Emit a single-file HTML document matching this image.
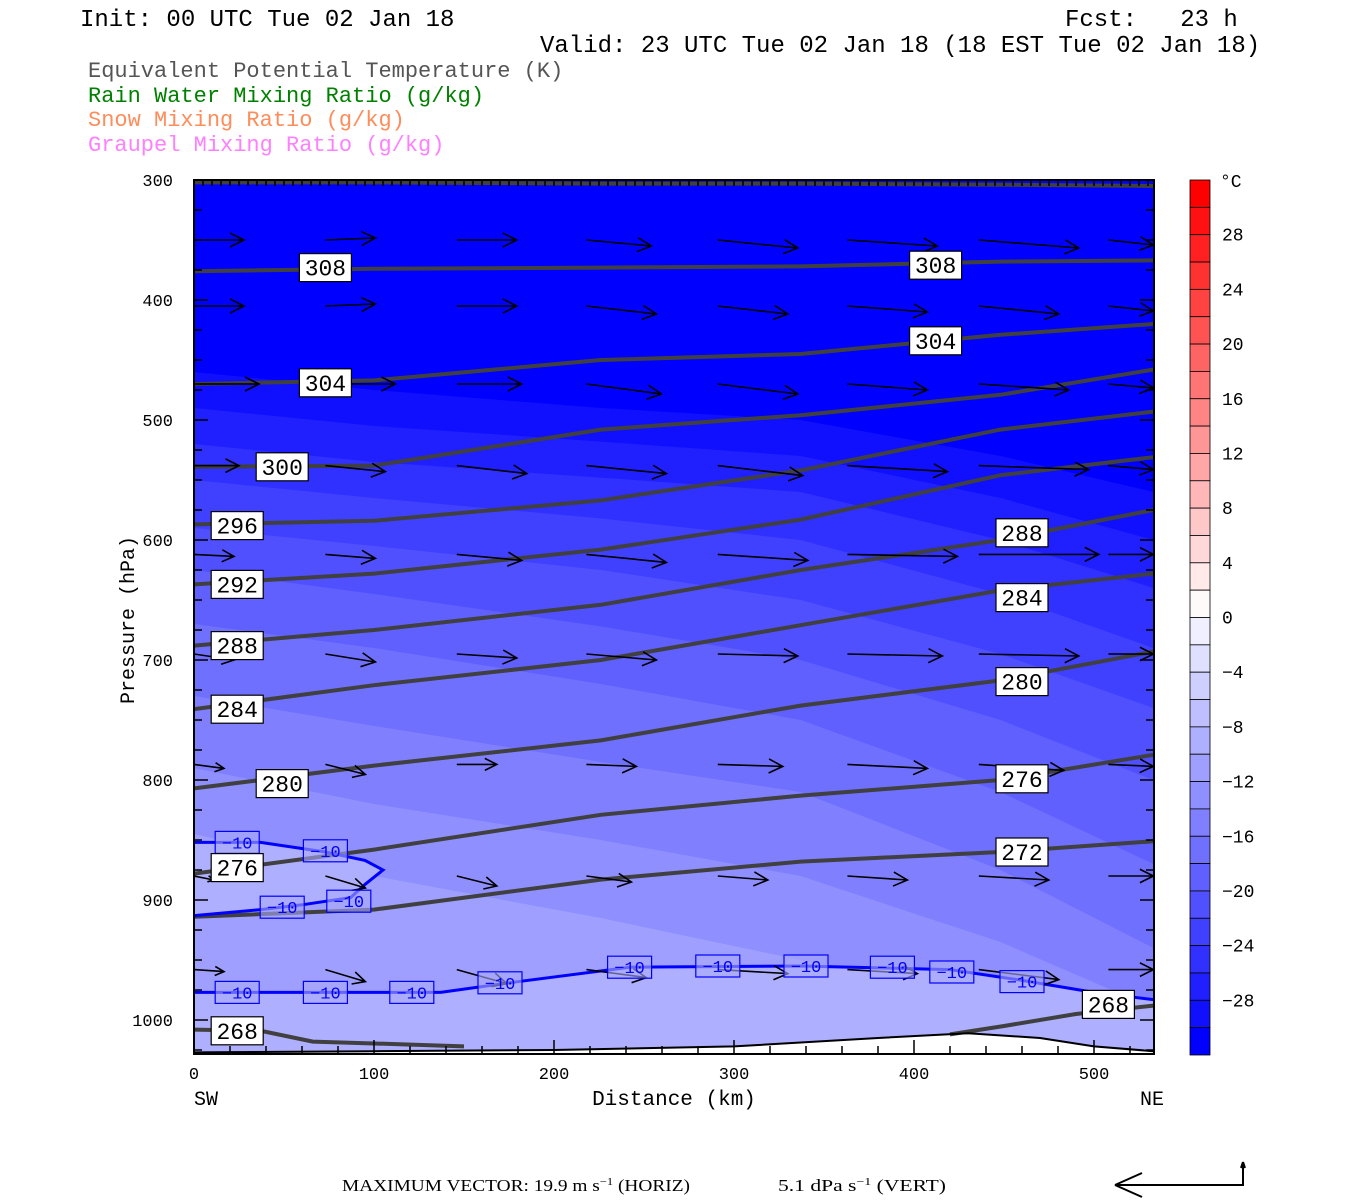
<!DOCTYPE html>
<html><head><meta charset="utf-8"><style>
body{margin:0;background:#fff;}
svg{display:block;font-family:"Liberation Mono",monospace;}
</style></head><body>
<svg id="chart" width="1350" height="1200" viewBox="0 0 1350 1200" xmlns="http://www.w3.org/2000/svg">
<g font-size="24">
<text x="80" y="26">Init: 00 UTC Tue 02 Jan 18</text>
<text x="1065" y="26" xml:space="preserve">Fcst:   23 h</text>
<text x="540" y="52">Valid: 23 UTC Tue 02 Jan 18 (18 EST Tue 02 Jan 18)</text>
</g>
<g font-size="22">
<text x="88" y="77" fill="#555">Equivalent Potential Temperature (K)</text>
<text x="88" y="102" fill="#008000">Rain Water Mixing Ratio (g/kg)</text>
<text x="88" y="126" fill="#ff8c5a">Snow Mixing Ratio (g/kg)</text>
<text x="88" y="151" fill="#ff80ff">Graupel Mixing Ratio (g/kg)</text>
</g>
<defs><clipPath id="clip"><rect x="194" y="180" width="960" height="874"/></clipPath></defs>
<g id="plot" clip-path="url(#clip)"></g>
<g id="axes"></g>
<g id="cbar"></g>
<g font-family="Liberation Serif,serif" font-size="17">
<text x="342" y="1191" textLength="348" lengthAdjust="spacingAndGlyphs">MAXIMUM VECTOR:  19.9 m s<tspan font-size="11" dy="-6">−1</tspan><tspan dy="6"> (HORIZ)</tspan></text>
<text x="778" y="1191" textLength="168" lengthAdjust="spacingAndGlyphs">5.1 dPa s<tspan font-size="11" dy="-6">−1</tspan><tspan dy="6"> (VERT)</tspan></text>
<path d="M1115 1185 H1243 V1162 M1115 1185 L1142 1173 M1115 1185 L1142 1197 M1243 1162 l-2 6 M1243 1162 l2 6" stroke="#000" stroke-width="2" fill="none"/>
</g>
</svg>
<script>
// ---- data ----
const kmGrid = [0,100,226,337,448,533];
const thetaLevels = [312,308,304,300,296,292,288,284,280,276,272];
const thetaP = [
 [302,302,303,303,304,305],
 [376,374,373,372,368,367],
 [470,467,450,445,429,420],
 [539,538,508,496,479,458],
 [587,584,567,542,508,493],
 [637,628,608,583,546,531],
 [688,675,654,625,600,575],
 [741,721,700,671,642,628],
 [807,788,767,738,717,693],
 [878,858,829,813,800,779],
 [914,908,883,868,860,851]
];
const theta268LeftKm = [0,37,66,110,150];
const theta268LeftP = [1008,1009,1018,1020,1022];
const theta268RightKm = [420,450,490,533];
const theta268RightP = [1012,1005,995,988];
const thetaLabelText = [308,304,300,296,292,288,284,280,276,268,308,304,288,284,280,276,272,268];
const thetaLabelKm = [73,73,49,24,24,24,24,49,24,24,412,412,460,460,460,460,460,508];
const thetaLabelP = [373,469,539,588,637,688,741,803,873,1009,371,434,594,648,718,799,860,987];
const tempLevels = [-30,-28,-26,-24,-22,-20,-18,-16,-14,-12];
const tempP = [
 [460,475,490,500,530,560],
 [490,505,518,530,565,600],
 [520,535,548,560,600,640],
 [550,565,582,600,645,690],
 [590,605,625,650,695,740],
 [625,645,672,700,750,800],
 [670,690,720,750,810,870],
 [730,755,785,810,875,940],
 [790,820,850,880,935,990],
 [845,880,915,950,985,1010]
];
const iso10LowKm = [0,137,175,242,337,420,460,500,533];
const iso10LowP = [977,977,969,956,955,958,967,977,983];
const iso10LoopKm = [0,37,73,95,105,95,87,60,37,0];
const iso10LoopP = [852,852,860,867,875,887,898,904,908,913];
const iso10LabelKm = [24,73,49,86,24,73,121,170,242,291,340,388,421,460];
const iso10LabelP = [852,859,906,901,977,977,977,969,956,955,955,956,960,968];
const groundKm = [0,100,200,300,380,430,470,500,533];
const groundP = [1027,1026,1025,1022,1015,1011,1015,1022,1026];
const windKm = [0,73,146,218,291,363,436,508];
const windP = [350,405,470,538,612,695,787,880,958,1037];
const windU = [
 [10,10,12,13,16,18,20,9],
 [10,10,12,14,14,16,16,9],
 [13,14,13,15,16,16,18,9],
 [9,12,14,16,17,20,22,9],
 [8,10,13,16,18,22,24,9],
 [8,10,12,14,16,19,20,9],
 [6,8,8,10,13,16,17,9],
 [4,8,8,9,10,12,14,9],
 [6,8,10,12,14,14,16,9],
 [7,8,9,9,9,9,9,9]
];
const windW = [
 [0,-0.4,0,1.2,1.6,1.2,1.6,1],
 [0,-0.4,0,1.6,1.6,1.2,1.6,1],
 [0,0,0,2,2,1.2,1.2,0.8],
 [0,1.2,1.6,1.6,2,1.2,0.8,0.8],
 [0.4,0.8,1.2,1.6,1.2,0.4,0,0],
 [1.2,1.6,0.8,1.2,0.4,0.4,0.4,0],
 [0.8,2,0,0.4,0.4,0.8,1.2,0.4],
 [0.8,2.4,2,1.2,0.8,0.8,0.8,0],
 [0.4,2.4,2.8,1.6,0.8,0.8,2,0],
 [0.4,0.4,0,0,0.4,0.4,0.8,0]
];
const pTicks = [300,400,500,600,700,800,900,1000];
const kmTicks = [0,100,200,300,400,500];
const cbarLabels = [28,24,20,16,12,8,4,0,-4,-8,-12,-16,-20,-24,-28];
// ---- scales ----
const X0=194,X1=1154,Y0=180,Y1=1054;
const xs = km => X0 + km*1.8;
const ys = p => Y0 + (p-300)*1.2;
const NS="http://www.w3.org/2000/svg";
function mk(tag, attrs, parent){const e=document.createElementNS(NS,tag);for(const k in attrs)e.setAttribute(k,attrs[k]);parent.appendChild(e);return e;}
function tcol(L){const v=Math.round(255*(32+L)/32);return `rgb(${v},${v},255)`;}
function linePath(kms,ps){return kms.map((k,i)=>(i?'L':'M')+xs(k).toFixed(1)+' '+ys(ps[i]).toFixed(1)).join(' ');}
const plot=document.getElementById('plot');
let e=mk('rect',{x:X0,y:Y0,width:960,height:874,fill:'rgb(0,0,255)'},plot);


tempLevels.forEach((L,i)=>{
 const d=linePath([-10,...kmGrid,560],[tempP[i][0],...tempP[i],tempP[i][5]])+` L${X1+20} ${Y1+10} L${X0-20} ${Y1+10} Z`;
 const f=mk('path',{d:d,fill:tcol(L)},plot);
 
 
});
e=mk('path',{d:linePath([-10,...iso10LowKm,560],[iso10LowP[0],...iso10LowP,iso10LowP[8]])+` L${X1+20} ${Y1+10} L${X0-20} ${Y1+10} Z`,fill:tcol(-10)},plot);


e=mk('path',{d:linePath([-10,...iso10LoopKm,-10],[iso10LoopP[0],...iso10LoopP,iso10LoopP[9]])+' Z',fill:tcol(-10)},plot);


e=mk('path',{d:linePath(groundKm,groundP)+` L${X1} ${Y1+5} L${X0} ${Y1+5} Z`,fill:'#fff'},plot);


thetaLevels.forEach((t,i)=>{
 const l=mk('path',{d:linePath(kmGrid,thetaP[i]),stroke:'#404040','stroke-width':4,fill:'none'},plot);
 
 
});
e=mk('path',{d:linePath(theta268LeftKm,theta268LeftP),stroke:'#404040','stroke-width':4,fill:'none'},plot);


e=mk('path',{d:linePath(theta268RightKm,theta268RightP),stroke:'#404040','stroke-width':4,fill:'none'},plot);


e=mk('path',{d:linePath(iso10LowKm,iso10LowP),stroke:'#0000ff','stroke-width':3,fill:'none'},plot);


e=mk('path',{d:linePath(iso10LoopKm,iso10LoopP),stroke:'#0000ff','stroke-width':3,fill:'none'},plot);


e=mk('path',{d:linePath(groundKm,groundP),stroke:'#000','stroke-width':2,fill:'none'},plot);


const SC=5;
windP.forEach((p,r)=>{windKm.forEach((k,c)=>{
 const x=xs(k),y=ys(p),dx=windU[r][c]*SC,dy=windW[r][c]*SC;
 const L=Math.hypot(dx,dy),ux=dx/L,uy=dy/L,h=Math.min(14,L*0.3);
 const x2=x+dx,y2=y+dy;
 const ax1=x2-h*ux-h*0.5*uy,ay1=y2-h*uy+h*0.5*ux,ax2=x2-h*ux+h*0.5*uy,ay2=y2-h*uy-h*0.5*ux;
 const a=mk('path',{d:`M${x} ${y} L${x2} ${y2} M${ax1} ${ay1} L${x2} ${y2} L${ax2} ${ay2}`,stroke:'#000','stroke-width':1.6,fill:'none'},plot);
 
 
});});
iso10LabelKm.forEach((k,i)=>{
 const g=mk('g',{},plot);
 
 
 mk('rect',{x:xs(k)-22,y:ys(iso10LabelP[i])-11,width:44,height:22,fill:'rgba(170,170,250,0.6)',stroke:'#0000ff','stroke-width':1.2},g);
 const t=mk('text',{x:xs(k),y:ys(iso10LabelP[i])+6,'text-anchor':'middle','font-size':17,fill:'#0000ff'},g);t.textContent='−10';
});
thetaLabelText.forEach((v,i)=>{
 const g=mk('g',{},plot);
 
 
 const x=xs(thetaLabelKm[i]),y=ys(thetaLabelP[i]);
 mk('rect',{x:x-26,y:y-14,width:52,height:28,fill:'#fff',stroke:'#000','stroke-width':1.2},g);
 const t=mk('text',{x:x,y:y+8,'text-anchor':'middle','font-size':23,fill:'#000'},g);t.textContent=v;
});
const ax=document.getElementById('axes');
e=mk('rect',{x:X0,y:Y0,width:960,height:874,fill:'none',stroke:'#000','stroke-width':2},ax);


let td='';
for(let p=300;p<=1025;p+=25){const y=ys(p);const L=(p%100===0)?14:8;td+=`M${X0} ${y} h${L} M${X1} ${y} h${-L} `;}
for(let k=0;k<=533;k+=20){const x=xs(k);const L=(k%100===0)?14:8;td+=`M${x} ${Y1} v${-L} `;}
for(let k=0;k<=533;k+=5){const x=xs(k);td+=`M${x} ${Y0} v6 `;}
e=mk('path',{d:td,stroke:'#000','stroke-width':1.5,fill:'none'},ax);


pTicks.forEach(p=>{const t=mk('text',{x:173,y:ys(p)+6,'text-anchor':'end','font-size':17},ax);t.textContent=p;
 
 });
kmTicks.forEach(k=>{const t=mk('text',{x:xs(k),y:1079,'text-anchor':'middle','font-size':17},ax);t.textContent=k;
 
 });
e=mk('text',{x:0,y:0,transform:'translate(134,620) rotate(-90)','text-anchor':'middle','font-size':20},ax);e.textContent='Pressure (hPa)';


e=mk('text',{x:674,y:1105,'text-anchor':'middle','font-size':21},ax);e.textContent='Distance (km)';


e=mk('text',{x:194,y:1105,'font-size':20},ax);e.textContent='SW';


e=mk('text',{x:1140,y:1105,'font-size':20},ax);e.textContent='NE';


const cb=document.getElementById('cbar');
const BH=875/32;
for(let i=0;i<32;i++){
 const lo=32-2*(i+1);
 let col;
 if(lo>=0){const v=Math.round(250*(30-lo)/30);col=`rgb(255,${v},${v})`;}
 else {const v=Math.round(255*(32+lo)/32);col=`rgb(${v},${v},255)`;}
 const r=mk('rect',{x:1190,y:180+i*BH,width:20,height:BH,fill:col,stroke:'#000','stroke-width':0.8},cb);
 
 
}
cbarLabels.forEach(v=>{const y=180+(32-v)/2*BH;const t=mk('text',{x:1222,y:y+6,'font-size':18},cb);t.textContent=v<0?'−'+(-v):v;
 
 });
e=mk('text',{x:1220,y:187,'font-size':18},cb);e.textContent='°C';


</script>
</body></html>
